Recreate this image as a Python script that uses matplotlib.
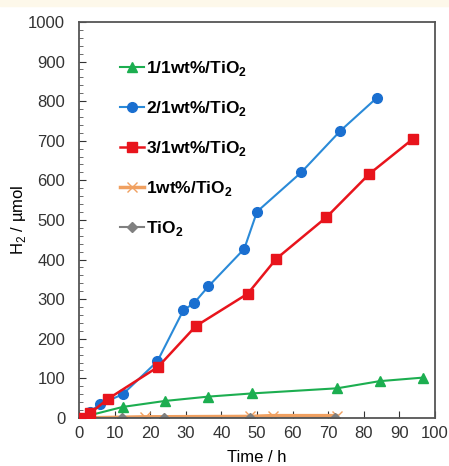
import matplotlib
matplotlib.use('Agg')
import matplotlib.pyplot as plt
from matplotlib.patches import Rectangle
from matplotlib.ticker import MultipleLocator

plt.rcParams['font.family'] = ['Liberation Sans', 'DejaVu Sans']
plt.rcParams['mathtext.fontset'] = 'custom'
plt.rcParams['mathtext.rm'] = 'Liberation Sans'
plt.rcParams['mathtext.bf'] = 'Liberation Sans:bold'

# data
t_green = [0, 12.3, 24.1, 36.3, 48.5, 72.5, 84.4, 96.6]
h_green = [0, 28, 43, 54, 62, 75, 93, 102]

t_blue = [0, 3.1, 6, 12.3, 22, 29.3, 32.3, 36.3, 46.4, 50, 62.4, 73.4, 83.6]
h_blue = [0, 16, 35, 60, 143, 272, 290, 332, 427, 521, 620, 725, 808]

t_red = [0, 3.1, 8.1, 22.2, 32.8, 47.4, 55.4, 69.5, 81.5, 93.7]
h_red = [0, 12, 48, 129, 232, 314, 402, 507, 616, 704]

t_orange = [0, 18.4, 48, 54.4, 72.4]
h_orange = [0, 3, 4, 6, 6]

t_grey = [0, 12, 24, 48, 72]
h_grey = [0, 0, 0, 0, 0]

labels = ['1/1wt%/TiO$_\\mathbf{2}$', '2/1wt%/TiO$_\\mathbf{2}$',
          '3/1wt%/TiO$_\\mathbf{2}$', '1wt%/TiO$_\\mathbf{2}$', 'TiO$_\\mathbf{2}$']

fig = plt.figure(figsize=(4.49, 4.66), dpi=100)
fig.patches.append(Rectangle((0, 0.988), 1, 0.012, transform=fig.transFigure,
                             color='#fdf8ea', zorder=0))
ax = fig.add_axes([0.176, 0.103, 0.793, 0.850])

ax.plot(t_green, h_green, color='#1cae50', marker='^', ms=7, lw=1.5, label=labels[0], zorder=3)
ax.plot(t_blue, h_blue, color='#2a8ad8', marker='o', mfc='#1a6fd0', mec='#1a6fd0', ms=7, lw=1.5, label=labels[1], zorder=3)
ax.plot(t_red, h_red, color='#e8141c', marker='s', ms=7, lw=1.8, label=labels[2], zorder=4)
ax.plot(t_orange, h_orange, color='#f0a060', marker='x', ms=7, lw=2.5, label=labels[3], zorder=2)
ax.plot(t_grey, h_grey, color='#808080', marker='D', ms=5.5, lw=1.5, label=labels[4], zorder=2)

ax.set_xlim(0, 100)
ax.set_ylim(0, 1000)
ax.xaxis.set_major_locator(MultipleLocator(10))
ax.yaxis.set_major_locator(MultipleLocator(100))
ax.yaxis.set_minor_locator(MultipleLocator(20))
ax.tick_params(direction='in', labelsize=12, colors='#333333', length=5, width=0.8)
ax.tick_params(which='minor', direction='in', length=3, width=0.6, colors='#555555')
ax.tick_params(axis='x', pad=6)
ax.tick_params(axis='y', pad=10)
for s in ax.spines.values():
    s.set_color('#555555')
    s.set_linewidth(1.3)

ax.set_xlabel('Time / h', fontsize=12, labelpad=6)
ax.set_ylabel('H$_2$ / µmol', fontsize=12, labelpad=0)

ax.legend(loc='upper left', bbox_to_anchor=(0.07, 0.945), frameon=False,
          handlelength=1.4, handletextpad=0.1, labelspacing=1.2,
          prop={'weight': 'bold', 'size': 12.5})

fig.savefig('out.png', dpi=100)
